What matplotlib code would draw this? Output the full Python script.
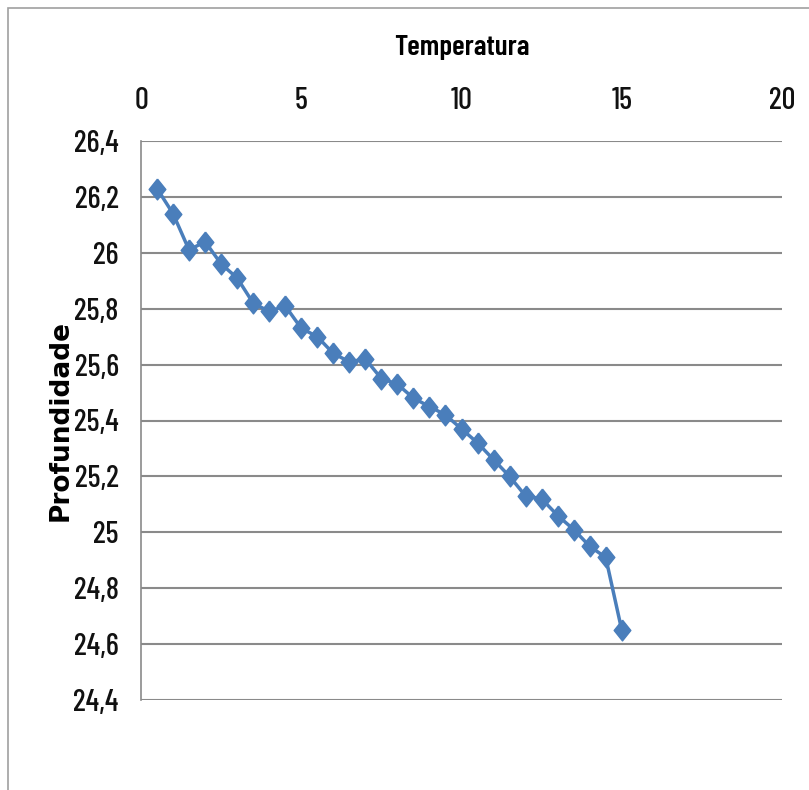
import matplotlib.pyplot as plt
from matplotlib.patches import Rectangle
from matplotlib.ticker import FuncFormatter

# Dados
temperatura = [0.5, 1.0, 1.5, 2.0, 2.5, 3.0, 3.5, 4.0, 4.5, 5.0,
               5.5, 6.0, 6.5, 7.0, 7.5, 8.0, 8.5, 9.0, 9.5, 10.0,
               10.5, 11.0, 11.5, 12.0, 12.5, 13.0, 13.5, 14.0, 14.5, 15.0]
profundidade = [26.23, 26.14, 26.01, 26.04, 25.96, 25.91, 25.82, 25.79, 25.81, 25.73,
                25.70, 25.64, 25.61, 25.62, 25.55, 25.53, 25.48, 25.45, 25.42, 25.37,
                25.32, 25.26, 25.20, 25.13, 25.12, 25.06, 25.01, 24.95, 24.91, 24.65]
x_ticks = [0, 5, 10, 15, 20]
y_ticks = [24.4, 24.6, 24.8, 25.0, 25.2, 25.4, 25.6, 25.8, 26.0, 26.2, 26.4]

png_file_name = 'out.png'
tick_font = ['Barlow Condensed', 'DejaVu Sans']
cor = '#4a7ebb'

fig = plt.figure(figsize=(8.09, 7.90), dpi=100)
# moldura da área do gráfico
fig.patches.append(Rectangle((8 / 809, -0.1), 1.2, 1.1 - 8 / 790, transform=fig.transFigure,
                             fill=False, edgecolor='#a0a0a0', linewidth=1.2))

ax = fig.add_axes([141 / 809, 1 - 700 / 790, 641 / 809, 559 / 790])

diamante = [(0, 1), (0.8, 0), (0, -1), (-0.8, 0), (0, 1)]
ax.plot(temperatura, profundidade, color=cor, linewidth=2.5,
        marker=diamante, markersize=15, markerfacecolor=cor, markeredgecolor=cor)

ax.set_xlim(0, 20)
ax.set_ylim(24.4, 26.4)
ax.set_xticks(x_ticks)
ax.set_yticks(y_ticks)
ax.xaxis.tick_top()
ax.xaxis.set_label_position('top')
ax.yaxis.set_major_formatter(FuncFormatter(lambda v, p: f'{v:g}'.replace('.', ',')))
ax.tick_params(axis='both', length=0, labelsize=22, colors='#111111')
ax.tick_params(axis='x', pad=18.5)
ax.tick_params(axis='y', pad=16)
for lab in ax.get_xticklabels() + ax.get_yticklabels():
    lab.set_family(tick_font)
    lab.set_fontweight('medium')

ax.grid(axis='y', color='#8a8a8a', linewidth=1.5)
ax.set_axisbelow(True)
for s in ['top', 'right', 'bottom']:
    ax.spines[s].set_visible(False)
ax.spines['left'].set_color('#8a8a8a')
ax.spines['left'].set_linewidth(1.2)

ax.set_xlabel('Temperatura', fontsize=21, fontweight='semibold', family=tick_font, labelpad=23)
ax.set_ylabel('Profundidade', fontsize=19, fontweight='bold', labelpad=0)

plt.savefig(png_file_name)
plt.close()
